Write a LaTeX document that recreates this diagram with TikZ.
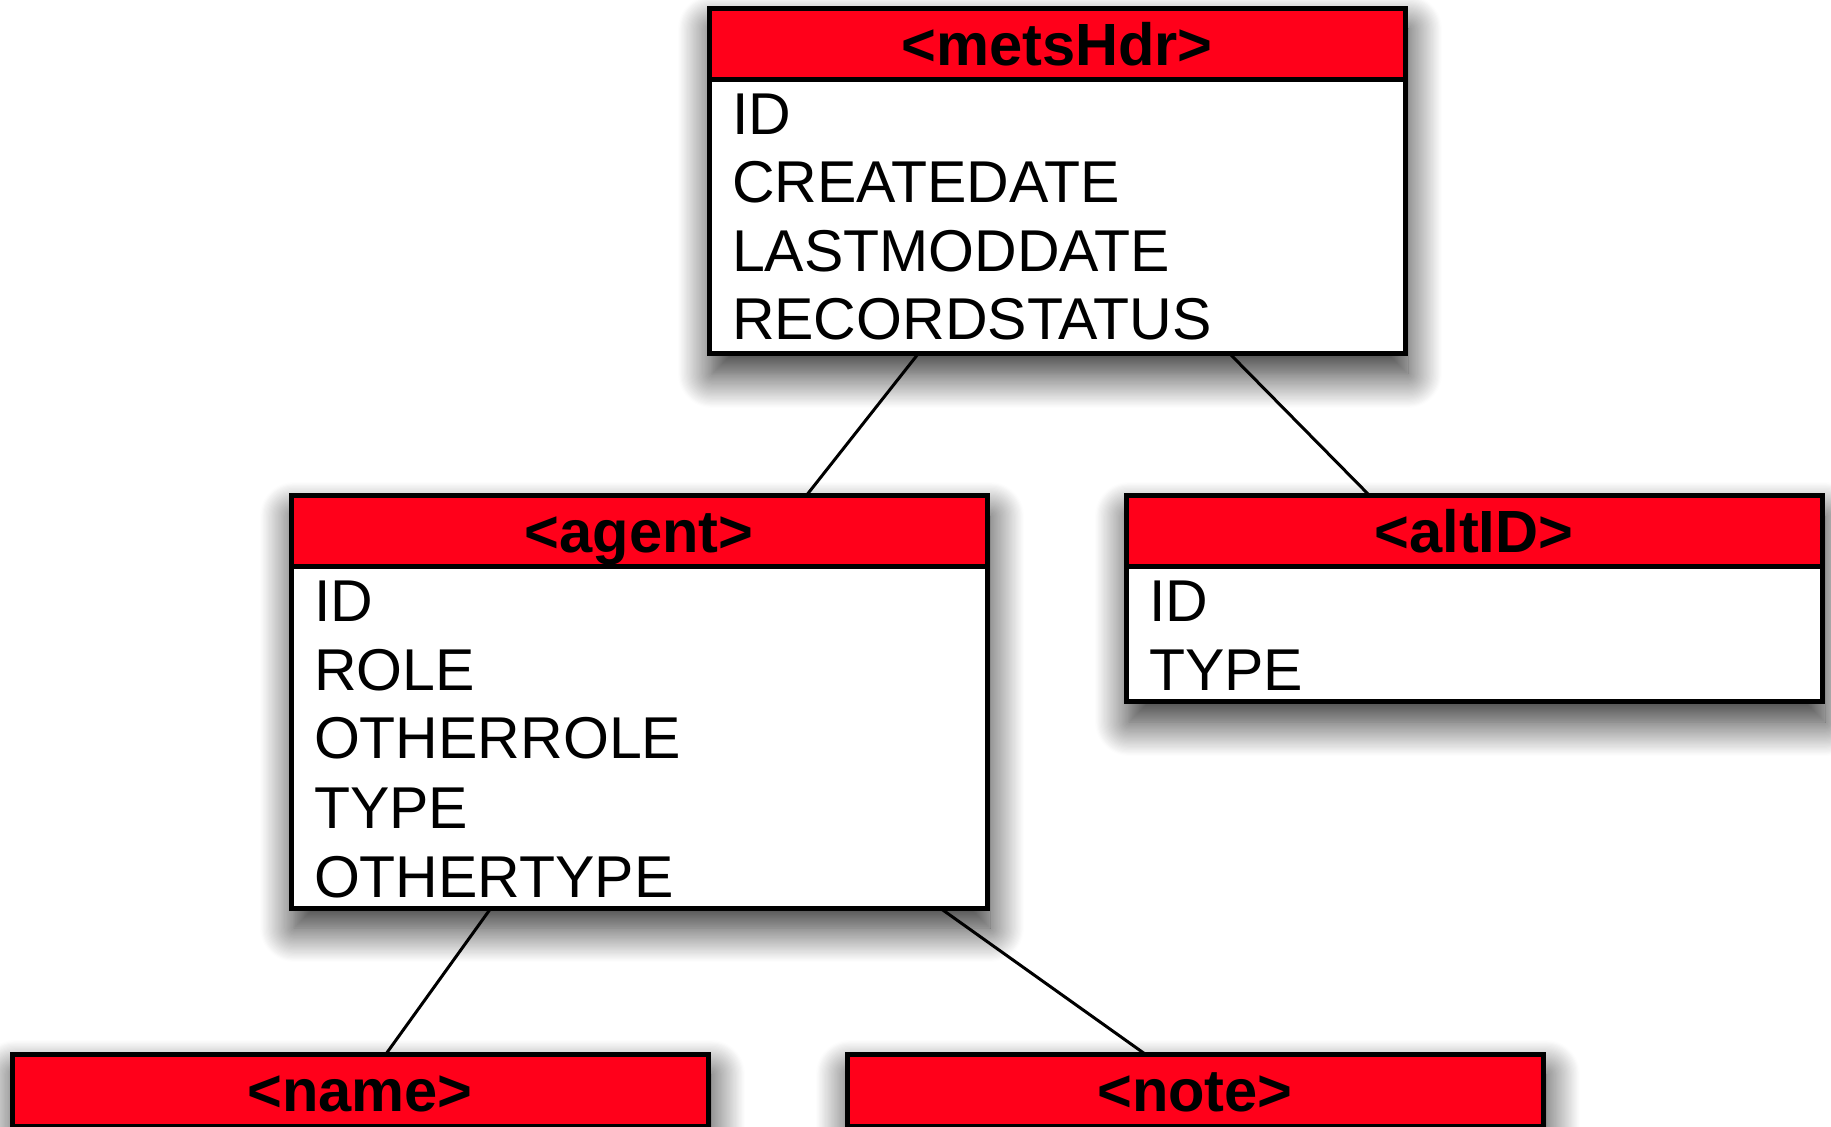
\documentclass[tikz,border=0pt]{standalone}
\usepackage{fontspec}
\setmainfont{Liberation Sans}
\usetikzlibrary{calc,shadows.blur}
\definecolor{hdrred}{RGB}{255,0,26}
\begin{document}
\begin{tikzpicture}[x=0.5pt,y=-0.5pt,
  shadowed/.style={blur shadow={shadow xshift=1.5pt, shadow yshift=-10pt, shadow blur radius=17pt, shadow blur steps=30, shadow opacity=85}},
  frame/.style={draw=black, line width=2.5pt, fill=white, rectangle, inner sep=0pt, outer sep=0pt, anchor=north west, minimum width=348pt, shadowed},
  hdr/.style={draw=black, line width=2.5pt, fill=hdrred, rectangle, inner sep=0pt, outer sep=0pt, anchor=north west, minimum width=348pt, minimum height=35.5pt, text height=21.3pt, text depth=0pt, font=\bfseries\fontsize{29.8pt}{34pt}\selectfont},
  attr/.style={anchor=base west, inner sep=0pt, outer sep=0pt, font=\fontsize{29.5pt}{34pt}\selectfont},
  link/.style={draw=black, line width=1.5pt}]
\useasboundingbox (0,0) rectangle (1831,1127);

% boxes
\node[frame, minimum height=172.5pt] (mets) at (709,9) {};
\node[hdr] (metsH) at (mets.north west) {<metsHdr>};
\node[attr] (m1) at (732,135) {ID};
\node[attr] (m2) at (732,203) {CREATEDATE};
\node[attr] (m3) at (732,272) {LASTMODDATE};
\node[attr] (m4) at (732,340) {RECORDSTATUS};

\node[frame, minimum height=206pt] (agent) at (291,496) {};
\node[hdr] (agentH) at (agent.north west) {<agent>};
\node[attr] (a1) at (314,622) {ID};
\node[attr] (a2) at (314,691) {ROLE};
\node[attr] (a3) at (314,759) {OTHERROLE};
\node[attr] (a4) at (314,828) {TYPE};
\node[attr] (a5) at (314,897) {OTHERTYPE};

\node[frame, minimum height=103pt] (alt) at (1126,496) {};
\node[hdr] (altH) at (alt.north west) {<altID>};
\node[attr] (t1) at (1149,622) {ID};
\node[attr] (t2) at (1149,691) {TYPE};

\node[hdr, shadowed, minimum height=36pt] (name) at (12,1054) {<name>};
\node[hdr, shadowed, minimum height=36pt] (note) at (847,1054) {<note>};

% connectors
\draw[link] ($(mets.south west)+(209,0)$) -- ($(agent.north west)+(515,0)$);
\draw[link] ($(mets.south west)+(521,0)$) -- ($(alt.north west)+(244,0)$);
\draw[link] ($(agent.south west)+(200,0)$) -- ($(name.north west)+(374,0)$);
\draw[link] ($(agent.south west)+(649,0)$) -- ($(note.north west)+(298,0)$);
\end{tikzpicture}
\end{document}
